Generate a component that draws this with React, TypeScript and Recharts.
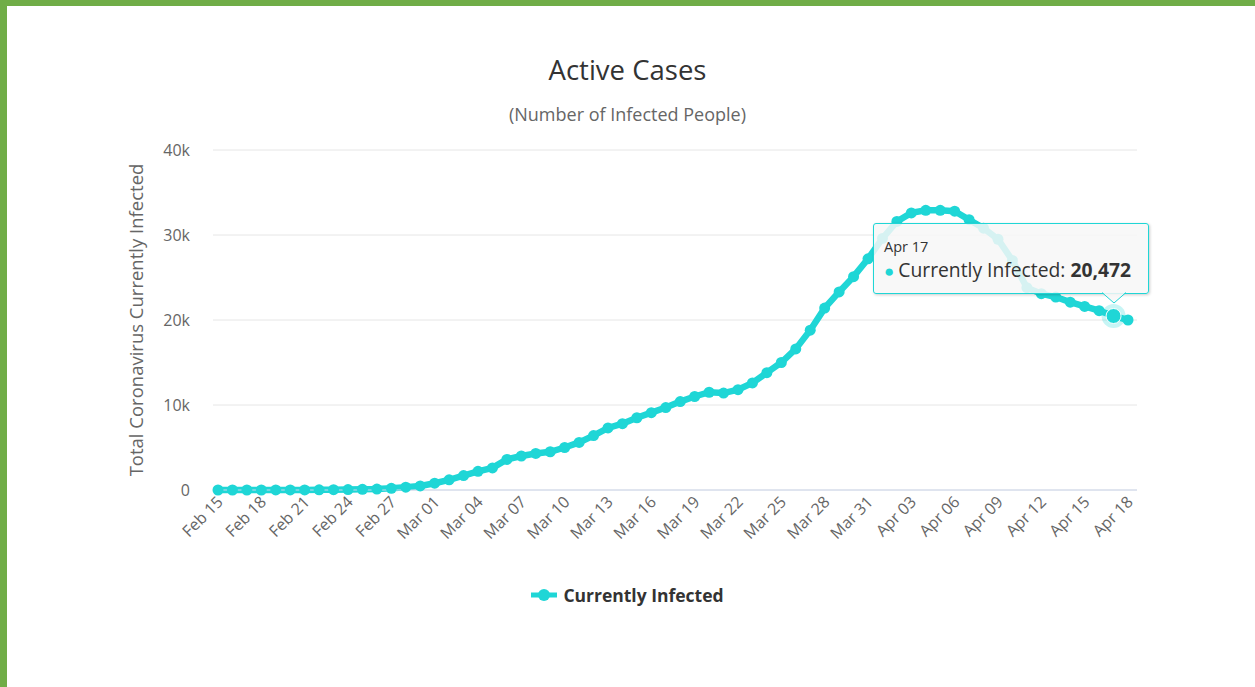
import { LineChart, Line, XAxis, YAxis, CartesianGrid, Tooltip } from "recharts";

const dates = [
  "Feb 15", "Feb 16", "Feb 17", "Feb 18", "Feb 19", "Feb 20", "Feb 21", "Feb 22",
  "Feb 23", "Feb 24", "Feb 25", "Feb 26", "Feb 27", "Feb 28", "Feb 29",
  "Mar 01", "Mar 02", "Mar 03", "Mar 04", "Mar 05", "Mar 06", "Mar 07", "Mar 08",
  "Mar 09", "Mar 10", "Mar 11", "Mar 12", "Mar 13", "Mar 14", "Mar 15", "Mar 16",
  "Mar 17", "Mar 18", "Mar 19", "Mar 20", "Mar 21", "Mar 22", "Mar 23", "Mar 24",
  "Mar 25", "Mar 26", "Mar 27", "Mar 28", "Mar 29", "Mar 30", "Mar 31",
  "Apr 01", "Apr 02", "Apr 03", "Apr 04", "Apr 05", "Apr 06", "Apr 07", "Apr 08",
  "Apr 09", "Apr 10", "Apr 11", "Apr 12", "Apr 13", "Apr 14", "Apr 15", "Apr 16",
  "Apr 17", "Apr 18",
];

const currentlyInfected = [
  0, 0, 0, 0, 2, 3, 14, 23,
  35, 49, 79, 110, 200, 330, 480,
  800, 1200, 1700, 2200, 2600, 3600, 4000, 4300,
  4500, 5000, 5600, 6400, 7300, 7800, 8500, 9100,
  9700, 10400, 11000, 11500, 11400, 11800, 12600, 13800,
  15000, 16600, 18800, 21400, 23300, 25100, 27200,
  29600, 31600, 32600, 32900, 32900, 32800, 31800, 30800,
  29500, 27000, 23800, 23100, 22700, 22100, 21600, 21100,
  20472, 20000,
];

const yTicks = [0, 10000, 20000, 30000, 40000];
const seriesName = "Currently Infected";
const hoveredIndex = 62;

const data = dates.map((date, i) => ({ date, infected: currentlyInfected[i] }));

const TEAL = "#1fd6d6";
const FONT = "'Open Sans', sans-serif";

function DateTick({ x, y, payload }: any) {
  return (
    <g transform={`translate(${x + 2},${y + 1})`}>
      <text
        transform="rotate(-45)"
        textAnchor="end"
        dy="0.35em"
        fill="#666"
        fontSize={16}
        fontFamily={FONT}
      >
        {payload.value}
      </text>
    </g>
  );
}

function AxisTitle({ viewBox }: any) {
  const cx = viewBox.x + 137;
  const cy = viewBox.y + viewBox.height / 2;
  return (
    <text
      transform={`translate(${cx},${cy}) rotate(-90)`}
      textAnchor="middle"
      dy="0.35em"
      fill="#666"
      fontSize={18.5}
      fontFamily={FONT}
    >
      Total Coronavirus Currently Infected
    </text>
  );
}

function HoverDot({ cx, cy }: any) {
  return (
    <g>
      <circle cx={cx} cy={cy} r={12} fill={TEAL} fillOpacity={0.25} />
      <circle cx={cx} cy={cy} r={7.5} fill={TEAL} stroke="#fff" strokeWidth={1} />
    </g>
  );
}

function InfoBox({ active, payload, label }: any) {
  if (!active || !payload?.length) return null;
  const v = Number(payload[0].value).toLocaleString("en-US");
  return (
    <div
      style={{
        position: "relative",
        width: 274,
        height: 69,
        background: "rgba(247,247,247,0.85)",
        border: `1px solid ${TEAL}`,
        borderRadius: 3,
        boxShadow: "1px 1px 3px rgba(0,0,0,0.2)",
        fontFamily: FONT,
        color: "#333",
      }}
    >
      <div style={{ position: "absolute", left: 10, top: 14, fontSize: 14.5, lineHeight: "18px" }}>
        {label}
      </div>
      <div style={{ position: "absolute", left: 10, top: 33, fontSize: 19.3, lineHeight: "25px", whiteSpace: "nowrap" }}>
        <span style={{ color: TEAL, fontSize: 17, marginRight: 4 }}>●</span>
        {seriesName}: <b>{v}</b>
      </div>
      <svg style={{ position: "absolute", left: 228, top: 68 }} width={24} height={13}>
        <path d="M0 0 L12 11 L24 0 Z" fill="rgba(247,247,247,0.85)" />
        <path d="M0 0.5 L12 11 L24 0.5" fill="none" stroke={TEAL} strokeWidth={1} />
      </svg>
    </div>
  );
}

export default function App() {
  return (
    <div
      style={{
        position: "absolute",
        left: 0,
        top: 0,
        width: 1255,
        height: 687,
        background: "#fff",
        overflow: "hidden",
        fontFamily: FONT,
      }}
    >
      <div style={{ position: "absolute", left: 0, top: 0, width: 1255, height: 6, background: "#70ad47" }} />
      <div style={{ position: "absolute", left: 0, top: 0, width: 7, height: 687, background: "#70ad47" }} />
      <div
        style={{
          position: "absolute",
          left: 0,
          top: 52,
          width: 1255,
          textAlign: "center",
          fontSize: 27.5,
          lineHeight: "36px",
          color: "#333",
        }}
      >
        Active Cases
      </div>
      <div
        style={{
          position: "absolute",
          left: 0,
          top: 101,
          width: 1255,
          textAlign: "center",
          fontSize: 18,
          lineHeight: "26px",
          color: "#666",
        }}
      >
        (Number of Infected People)
      </div>
      <div style={{ position: "absolute", left: 0, top: 0 }}>
        <LineChart
          width={1255}
          height={687}
          data={data}
          margin={{ top: 150, right: 118, bottom: 137, left: 0 }}
        >
          <CartesianGrid vertical={false} stroke="#e6e6e6" />
          <XAxis
            dataKey="date"
            interval={2}
            tick={<DateTick />}
            tickLine={false}
            axisLine={{ stroke: "#ccd6eb" }}
            padding={{ left: 5, right: 9 }}
            height={60}
          />
          <YAxis
            width={213}
            domain={[0, 40000]}
            ticks={yTicks}
            tickSize={0}
            tickMargin={23}
            axisLine={false}
            tickLine={false}
            tick={{ fill: "#666", fontSize: 16, fontFamily: FONT }}
            tickFormatter={(v) => (v === 0 ? "0" : `${v / 1000}k`)}
            label={{ content: <AxisTitle /> }}
          />
          <Tooltip
            defaultIndex={hoveredIndex}
            active
            cursor={false}
            position={{ x: 873, y: 223 }}
            content={<InfoBox />}
            isAnimationActive={false}
            wrapperStyle={{ outline: "none" }}
          />
          <Line
            type="linear"
            dataKey="infected"
            name={seriesName}
            stroke={TEAL}
            strokeWidth={6.5}
            dot={{ r: 5.5, fill: TEAL, stroke: TEAL, strokeWidth: 0 }}
            activeDot={<HoverDot />}
            isAnimationActive={false}
          />
        </LineChart>
      </div>
      <div
        style={{
          position: "absolute",
          left: 0,
          top: 582,
          width: 1255,
          display: "flex",
          justifyContent: "center",
          alignItems: "center",
          height: 26,
        }}
      >
        <svg width={26} height={14} style={{ marginRight: 6 }}>
          <line x1={0} y1={7} x2={26} y2={7} stroke={TEAL} strokeWidth={5} />
          <circle cx={13} cy={7} r={6} fill={TEAL} />
        </svg>
        <span style={{ fontSize: 17.5, fontWeight: 700, color: "#333" }}>{seriesName}</span>
      </div>
    </div>
  );
}
